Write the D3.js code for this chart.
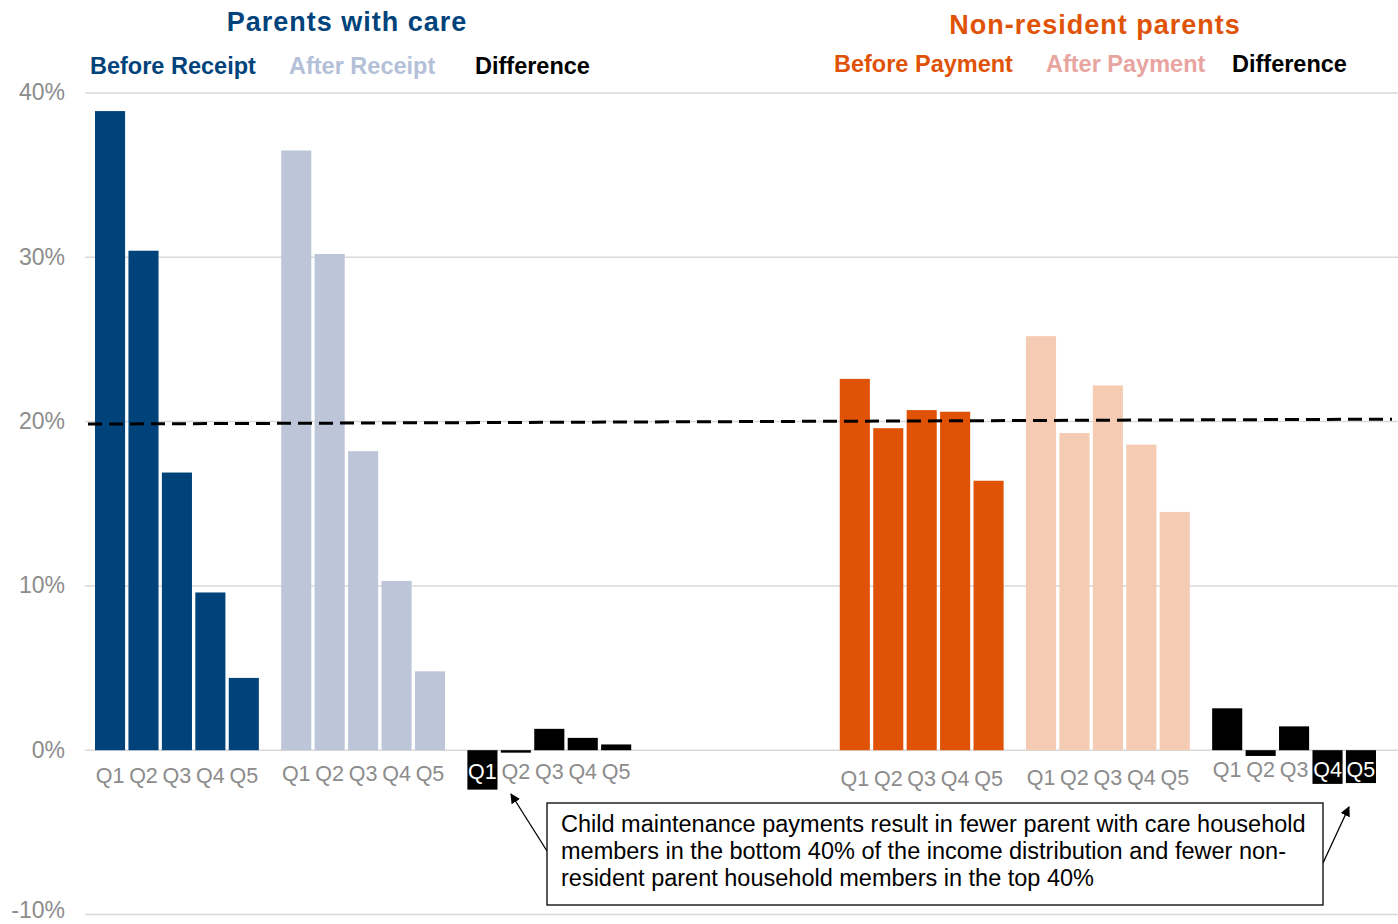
<!DOCTYPE html>
<html>
<head>
<meta charset="utf-8">
<script src="https://cdn.jsdelivr.net/npm/d3@7"></script>
<style>
  html, body { margin: 0; padding: 0; background: #fff; }
  svg { display: block; font-family: "Liberation Sans", Arial, sans-serif; }
</style>
</head>
<body>
<svg id="chart" width="1398" height="924"></svg>
<script>
// Income quintiles shown within each group
const quintiles = ["Q1", "Q2", "Q3", "Q4", "Q5"];

// Share of household members in each income quintile (%)
const pwcBefore = [38.9, 30.4, 16.9, 9.6, 4.4];
const pwcAfter  = [36.5, 30.2, 18.2, 10.3, 4.8];
const pwcDiff   = [-2.4, -0.15, 1.3, 0.75, 0.35];
const nrpBefore = [22.6, 19.6, 20.7, 20.6, 16.4];
const nrpAfter  = [25.2, 19.3, 22.2, 18.6, 14.5];
const nrpDiff   = [2.55, -0.35, 1.45, -2.05, -2.0];

// Reference line (value at left end, value at right end)
const referenceLine = [19.85, 20.15];

// Y-axis ticks
const yTicks = [-10, 0, 10, 20, 30, 40];

// Group slots along the x axis ("gap" leaves an empty slot)
const slots = ["pwcBefore", "pwcAfter", "pwcDiff", "gap", "nrpBefore", "nrpAfter", "nrpDiff"];

const groups = [
  { key: "pwcBefore", values: pwcBefore, color: "#00437a", labelDy: 25 },
  { key: "pwcAfter",  values: pwcAfter,  color: "#bdc6d9", labelDy: 23 },
  { key: "pwcDiff",   values: pwcDiff,   color: "#000000", labelDy: 21 },
  { key: "nrpBefore", values: nrpBefore, color: "#e05206", labelDy: 28 },
  { key: "nrpAfter",  values: nrpAfter,  color: "#f5cbb3", labelDy: 27 },
  { key: "nrpDiff",   values: nrpDiff,   color: "#000000", labelDy: 19 }
];

const svg = d3.select("#chart");

const y = d3.scaleLinear().domain([-10, 40]).range([914.5, 93]);

const xGroup = d3.scaleBand().domain(slots).range([95, 1376]).paddingInner(0.12).paddingOuter(0);
const xBar = d3.scaleBand().domain(quintiles).range([0, xGroup.bandwidth()]).paddingInner(0.1).paddingOuter(0);

// Gridlines
svg.append("g")
  .selectAll("line")
  .data(yTicks)
  .join("line")
  .attr("x1", 85).attr("x2", 1398)
  .attr("y1", d => y(d)).attr("y2", d => y(d))
  .attr("stroke", "#d9d9d9").attr("stroke-width", 1.5);

// Y axis labels (the lowest one is lifted slightly to stay inside the canvas)
const yAxis = d3.axisLeft(y).tickValues(yTicks).tickFormat(d => d + "%").tickSize(0).tickPadding(0);
const yg = svg.append("g").attr("transform", "translate(65,0)").call(yAxis);
yg.select(".domain").remove();
yg.selectAll("text")
  .attr("fill", "#8c8c8c")
  .attr("dy", d => d === -10 ? "0.12em" : "0.3em")
  .style("font-size", "23px")
  .style("font-family", "'Liberation Sans', Arial, sans-serif");

// Bars
groups.forEach(g => {
  const gx = xGroup(g.key);
  const layer = svg.append("g").attr("transform", `translate(${gx},0)`);
  layer.selectAll("rect")
    .data(g.values.map((v, i) => ({ q: quintiles[i], v })))
    .join("rect")
    .attr("x", d => xBar(d.q))
    .attr("width", xBar.bandwidth())
    .attr("y", d => Math.min(y(d.v), y(0)))
    .attr("height", d => Math.abs(y(d.v) - y(0)))
    .attr("fill", g.color);

  // Quintile labels (white where they sit on a dark negative bar)
  layer.selectAll("text")
    .data(g.values.map((v, i) => ({ q: quintiles[i], v })))
    .join("text")
    .attr("x", d => xBar(d.q) + xBar.bandwidth() / 2)
    .attr("y", y(0) + g.labelDy)
    .attr("dy", "0.35em")
    .attr("text-anchor", "middle")
    .attr("fill", d => (g.color === "#000000" && y(d.v) - y(0) > 20) ? "#ffffff" : "#8c8c8c")
    .style("font-size", "21.5px")
    .text(d => d.q);
});

// Dashed reference line
svg.append("line")
  .attr("x1", 88).attr("x2", 1392)
  .attr("y1", y(referenceLine[0])).attr("y2", y(referenceLine[1]))
  .attr("stroke", "#000").attr("stroke-width", 3)
  .attr("stroke-dasharray", "14,7");

// Section titles
svg.append("text")
  .attr("x", 347).attr("y", 22).attr("dy", "0.35em")
  .attr("text-anchor", "middle")
  .attr("fill", "#00437a")
  .style("font-size", "27px").style("font-weight", "bold").style("letter-spacing", "1px")
  .text("Parents with care");

svg.append("text")
  .attr("x", 1095).attr("y", 25).attr("dy", "0.35em")
  .attr("text-anchor", "middle")
  .attr("fill", "#e05206")
  .style("font-size", "27px").style("font-weight", "bold").style("letter-spacing", "1px")
  .text("Non-resident parents");

// Legend labels
const legendItems = [
  { text: "Before Receipt", x: 90,   y: 66, color: "#00437a" },
  { text: "After Receipt",  x: 289,  y: 66, color: "#b4bfd8" },
  { text: "Difference",     x: 475,  y: 66, color: "#000000" },
  { text: "Before Payment", x: 834,  y: 64, color: "#e05206" },
  { text: "After Payment",  x: 1046, y: 64, color: "#e8a49f" },
  { text: "Difference",     x: 1232, y: 64, color: "#000000" }
];
svg.append("g")
  .selectAll("text")
  .data(legendItems)
  .join("text")
  .attr("x", d => d.x).attr("y", d => d.y).attr("dy", "0.35em")
  .attr("fill", d => d.color)
  .style("font-size", "23.5px").style("font-weight", "bold")
  .text(d => d.text);

// Annotation arrows
const defs = svg.append("defs");
defs.append("marker")
  .attr("id", "arrow")
  .attr("viewBox", "0 0 10 10")
  .attr("refX", 9).attr("refY", 5)
  .attr("markerWidth", 10).attr("markerHeight", 10)
  .attr("markerUnits", "userSpaceOnUse")
  .attr("orient", "auto")
  .append("path").attr("d", "M0,0 L10,5 L0,10 Z").attr("fill", "#000");

svg.append("line")
  .attr("x1", 547).attr("y1", 851).attr("x2", 511).attr("y2", 794)
  .attr("stroke", "#000").attr("stroke-width", 1.3)
  .attr("marker-end", "url(#arrow)");
svg.append("line")
  .attr("x1", 1323).attr("y1", 863).attr("x2", 1349).attr("y2", 807)
  .attr("stroke", "#000").attr("stroke-width", 1.3)
  .attr("marker-end", "url(#arrow)");

// Annotation box
svg.append("rect")
  .attr("x", 547).attr("y", 803).attr("width", 776).attr("height", 102)
  .attr("fill", "#fff").attr("stroke", "#000").attr("stroke-width", 1.3);

const noteLines = [
  "Child maintenance payments result in fewer parent with care household",
  "members in the bottom 40% of the income distribution and fewer non-",
  "resident parent household members in the top 40%"
];
svg.append("g")
  .selectAll("text")
  .data(noteLines)
  .join("text")
  .attr("x", 561)
  .attr("y", (d, i) => 824 + i * 27)
  .attr("dy", "0.35em")
  .attr("fill", "#000")
  .style("font-size", "23.5px")
  .text(d => d);
</script>
</body>
</html>
